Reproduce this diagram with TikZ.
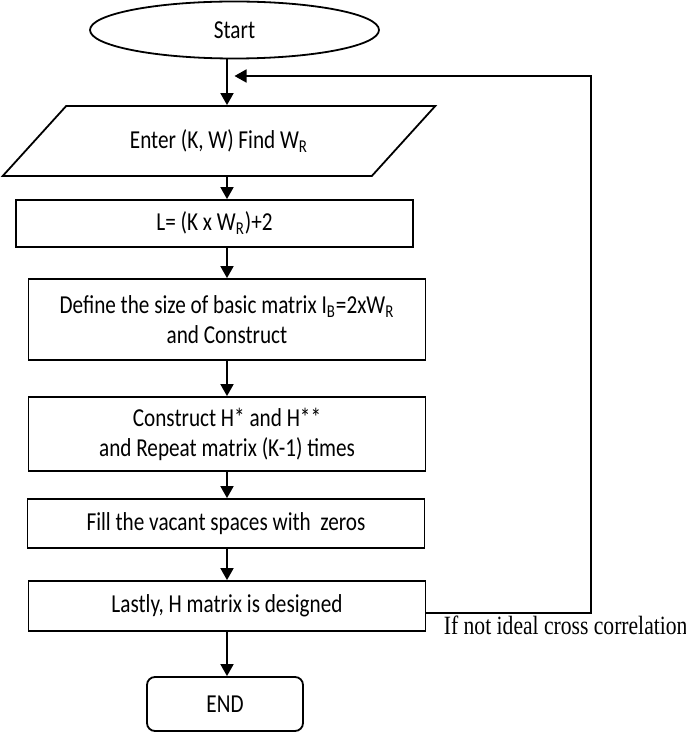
\documentclass[tikz,border=0pt]{standalone}
\usepackage{fontspec}
\setmainfont{Carlito}
\newfontfamily\timesfont{Liberation Serif}
\usetikzlibrary{shapes.geometric,arrows.meta}
\newcommand{\tallt}[1]{\scalebox{1}[1.22]{#1}}

\begin{document}
\begin{tikzpicture}[x=0.5pt,y=-0.5pt,line width=0.9pt]
\tikzstyle{term}=[ellipse,draw,minimum width=144.5pt,minimum height=28.5pt];
\tikzstyle{io}=[trapezium,trapezium left angle=31.8,trapezium right angle=148.2,trapezium stretches=true,draw,minimum width=216.7pt,minimum height=35pt,inner sep=0pt];
\tikzstyle{proc}=[rectangle,draw,minimum width=198.5pt,align=center];
\tikzstyle{stop}=[rectangle,rounded corners=4pt,draw,minimum width=78pt,minimum height=27pt];
\tikzstyle{alloc}=[-{Triangle[width=6.5pt,length=6pt]}];
\tikzset{every node/.style={font=\fontsize{10.6}{15}\selectfont}}
\useasboundingbox (0,0) rectangle (685,732);
\node [term] (v1) at (234.5,30) {\tallt{Start}};
\node [io] (v2) at (219,141) {\tallt{Enter (K, W) Find W\textsubscript{R}}};
\node [proc,minimum height=23.5pt] (v3) at (214.5,223.5) {\tallt{L= (K x W\textsubscript{R})+2}};
\node [proc,minimum height=40.5pt] (v4) at (227,319.5) {\tallt{Define the size of basic matrix I\textsubscript{B}=2xW\textsubscript{R}}\\\tallt{and Construct}};
\node [proc,minimum height=37pt] (v5) at (227,434) {\tallt{Construct H* and H**}\\\tallt{and Repeat matrix (K-1) times}};
\node [proc,minimum height=24.5pt] (v6) at (226,523.5) {\tallt{Fill the vacant spaces with\ \ zeros}};
\node [proc,minimum height=25pt] (v7) at (227,606) {\tallt{Lastly, H matrix is designed}};
\node [stop] (v8) at (225,704) {\tallt{END}};
\node [anchor=base west,font=\timesfont\fontsize{10.8}{13}\selectfont,inner sep=0pt] (v9) at (443,634) {\tallt{If not ideal cross correlation}};
\coordinate (c1) at (590.7,76);

\draw [alloc] (v1.south -| v5) -- (v2.north -| v5);
\draw [alloc] (v2.south -| v5) -- (v3.north -| v5);
\draw [alloc] (v3.south -| v5) -- (v4.north);
\draw [alloc] (v4) -- (v5);
\draw [alloc] (v5) -- (v6.north -| v5);
\draw [alloc] (v6.south -| v5) -- (v7);
\draw [alloc] (v7) -- (v8.north -| v7);
\draw [alloc] ([yshift=-3.5pt]v7.east) -| (c1) -- (c1 -| v1);
\end{tikzpicture}
\end{document}
